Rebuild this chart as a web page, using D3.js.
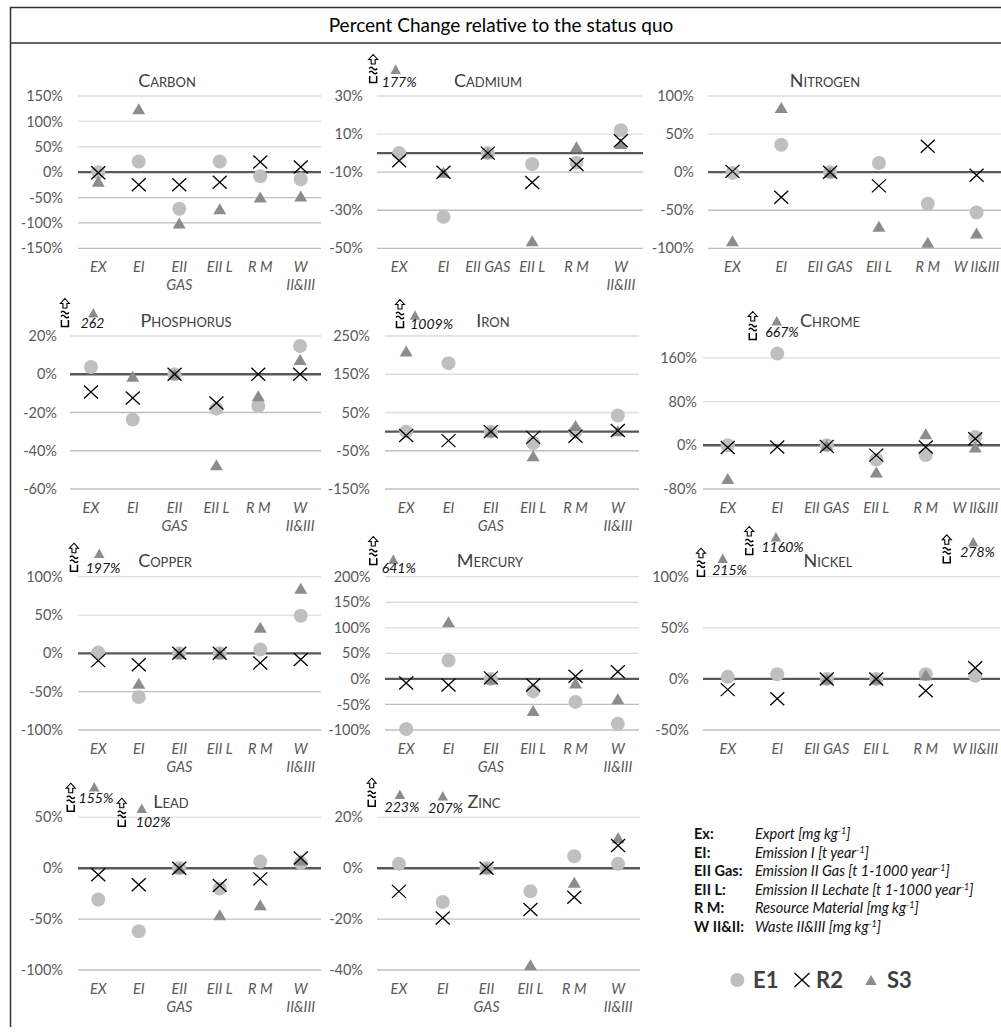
<!DOCTYPE html>
<html>
<head>
<meta charset="utf-8">
<script src="https://cdn.jsdelivr.net/npm/d3@7"></script>
<style>
  body { margin: 0; background: #fff; }
  svg { display: block; }
</style>
</head>
<body>
<svg id="chart" width="1001" height="1036"></svg>
<script>
// ---- data (percent change relative to the status quo) ----
const categories = ["EX", "EI", "EII GAS", "EII L", "R M", "W II&III"];
const elements = ["Carbon", "Cadmium", "Nitrogen", "Phosphorus", "Iron", "Chrome",
                  "Copper", "Mercury", "Nickel", "Lead", "Zinc"];

// scenario E1 (circles)
const e1Values = [
  [0, 21, -72, 21, -8, -14],
  [0, -33.5, 0, -5.8, -5, 12],
  [-1, 36, 0, 12, -41.5, -53],
  [3.8, -23.7, 0, -18, -16.6, 14.8],
  [0, 179, 0, -30, 0, 42],
  [0, 168, 0, -26, -18, 15],
  [1, -57, 0, 0, 5, 49],
  [-98, 36, 0, -24, -45, -88],
  [2, 4.5, 0, 0, 4.5, 3],
  [-30.7, -62, 0, -20, 6.5, 5],
  [1.7, -13.3, 0, -9.1, 4.7, 1.7]
];
// scenario R2 (crosses)
const r2Values = [
  [-1, -25, -25, -20, 20, 10],
  [-4, -10, 0, -15.4, -6, 6.5],
  [1, -33, 0, -18, 34, -4],
  [-9.3, -12.4, 0, -15, 0, 0],
  [-10, -23.5, 0, -15, -12, 3],
  [-4, -3, -2, -18, -3, 12],
  [-9.5, -15, 0, 0, -12.5, -8],
  [-8, -12, 2, -12, 5, 14],
  [-10.5, -19.5, 0, 0, -11.5, 11],
  [-6.5, -16.3, 0, -17, -10.5, 10],
  [-9.1, -19.6, 0, -16.2, -11.4, 8.9]
];
// scenario S3 (triangles); values above the axis maximum get a callout
const s3Values = [
  [-18, 125, -100, -72, -49, -47],
  [177, -10, 0, -46, 3.3, 5],
  [-90, 85, 0, -71, -92, -80],
  [262, -1, 0, -47.3, -11.3, 7.7],
  [211, 1009, 0, -63, 16, 2],
  [-61, 667, 0, -49, 21, -3],
  [197, -39, 0, 0, 34, 85],
  [641, 112, 0, -62, -8, -39],
  [215, 1160, 0, 0, 4, 278],
  [155, 102, 0, -45.7, -36, 8],
  [223, 207, 0, -37.9, -5.5, 12]
];

// value axes
const yDomains = [[-150, 150], [-50, 30], [-100, 100], [-60, 20], [-150, 250], [-80, 200],
                  [-100, 100], [-100, 200], [-50, 100], [-100, 50], [-40, 20]];
const yTickSteps = [50, 20, 50, 20, 100, 80, 50, 50, 50, 50, 20];
const unitlessCallouts = ["Phosphorus"];

// abbreviations
const abbrevKeys = ["Ex:", "EI:", "EII Gas:", "EII L:", "R M:", "W II&II:"];
const abbrevTexts = [
  ["Export [mg kg", "]"],
  ["Emission I [t year", "]"],
  ["Emission II Gas [t 1-1000 year", "]"],
  ["Emission II Lechate [t 1-1000 year", "]"],
  ["Resource Material [mg kg", "]"],
  ["Waste II&III [mg kg", "]"]
];
const seriesNames = ["E1", "R2", "S3"];

// ---- layout ----
const rowBands = [[96, 248.3], [336, 489], [576.7, 730], [817.3, 970]];
const cells = [
  { x0: 78,  x1: 321,  row: 0, tickRight: 63,  wrap: "both", titleX: 167 },
  { x0: 377, x1: 643,  row: 0, tickRight: 363, wrap: "w",    titleX: 488 },
  { x0: 708, x1: 1001, row: 0, tickRight: 694, wrap: "none", titleX: 825 },
  { x0: 70,  x1: 321,  row: 1, tickRight: 57,  wrap: "both", titleX: 186 },
  { x0: 385, x1: 639,  row: 1, tickRight: 370, wrap: "both", titleX: 493 },
  { x0: 703, x1: 1000, row: 1, tickRight: 697, wrap: "none", titleX: 830 },
  { x0: 78,  x1: 321,  row: 2, tickRight: 63,  wrap: "both", titleX: 165 },
  { x0: 385, x1: 639,  row: 2, tickRight: 370.5, wrap: "both", titleX: 490 },
  { x0: 703, x1: 1000, row: 2, tickRight: 689, wrap: "none", titleX: 828 },
  { x0: 78,  x1: 321,  row: 3, tickRight: 63,  wrap: "both", titleX: 171 },
  { x0: 377, x1: 640,  row: 3, tickRight: 363, wrap: "both", titleX: 484 }
];
// callout placement relative to band centre / plot top: triangle, label, break mark
const calloutPlacement = {
  "Cadmium|EX":    { t: [-3.5, -26.7], l: [0, -9.3],    a: [-26, -13] },
  "Phosphorus|EX": { t: [2.4, -23.3],  l: [1.6, -8],    a: [-26, -9] },
  "Iron|EI":       { t: [-33.5, -21],  l: [-16.8, -6.7], a: [-48.5, -8] },
  "Chrome|EI":     { t: [-0.5, -15.3], l: [4.8, 0.7],   a: [-24.5, 4] },
  "Copper|EX":     { t: [1, -23.4],    l: [4.8, -4],    a: [-24.3, -5] },
  "Mercury|EX":    { t: [-12.9, -17.4], l: [-7.4, -3.4], a: [-32.9, -11.7] },
  "Nickel|EX":     { t: [-5, -18.4],   l: [1.8, -1.7],  a: [-26.8, 0] },
  "Nickel|EI":     { t: [-1.3, -40],   l: [5.3, -25],   a: [-28, -21.7] },
  "Nickel|W II&III": { t: [-2, -35],   l: [2.3, -20],   a: [-28.5, -13.4] },
  "Lead|EX":       { t: [-4, -30.6],   l: [-2.3, -14],  a: [-27.5, -5.6] },
  "Lead|EI":       { t: [3, -9],       l: [14.5, 9.4],  a: [-17, 9.4] },
  "Zinc|EX":       { t: [1, -23],      l: [3, -5.6],    a: [-27.2, -10.6] },
  "Zinc|EI":       { t: [0, -21.6],    l: [2.8, -4],    a: null }
};

const FONT = "Lato, Carlito, 'Open Sans', sans-serif";
const TEXT_GREY = "#595959";
const C_E1 = "#BFBFBF", C_S3 = "#8C8C8C", C_R2 = "#000";

const svg = d3.select("#chart");

// frame (top and left edges) and heading bar
svg.append("path").attr("d", "M10.5,1027V7.5H1001M10.5,43H1001")
  .attr("fill", "none").attr("stroke", "#333").attr("stroke-width", 1.5);
svg.append("text").attr("x", 501).attr("y", 32).attr("text-anchor", "middle")
  .attr("font-family", FONT).attr("font-size", 19).attr("fill", "#000")
  .text("Percent Change relative to the status quo");

const triPath = (w, h) => `M0,${-h / 2}L${w / 2},${h / 2}L${-w / 2},${h / 2}Z`;
const crossPath = (w, h) => `M${-w / 2},${-h / 2}L${w / 2},${h / 2}M${w / 2},${-h / 2}L${-w / 2},${h / 2}`;

// axis-break mark: hollow up arrow, double wave, open bracket
function breakMark(g, ax, ab) {
  const m = g.append("g").attr("transform", `translate(${ax},${ab})`)
    .attr("fill", "none").attr("stroke", "#000");
  m.append("path").attr("d", "M0,-28.5L4.5,-23.5H2V-19H-2V-23.5H-4.5Z")
    .attr("fill", "#fff").attr("stroke-width", 1.1);
  m.append("path").attr("d", "M-4,-14.5q2,-2.5 4,0t4,0M-4,-10.5q2,-2.5 4,0t4,0")
    .attr("stroke-width", 1.4);
  m.append("path").attr("d", "M-3.5,-7V-0.5H3.5V-7").attr("stroke-width", 1.5);
}

elements.forEach((name, i) => {
  const c = cells[i];
  const [top, bottom] = rowBands[c.row];
  const [lo, hi] = yDomains[i];
  const g = svg.append("g").attr("class", "panel");

  const x = d3.scaleBand().domain(categories).range([c.x0, c.x1]);
  const y = d3.scaleLinear().domain([lo, hi]).range([bottom, top]);
  const ticks = d3.range(lo, hi + 1e-9, yTickSteps[i]);
  const cx = d => x(d) + x.bandwidth() / 2;

  // gridlines
  g.selectAll("line.grid").data(ticks.filter(t => t !== 0)).join("line")
    .attr("class", "grid")
    .attr("x1", c.x0).attr("x2", c.x1)
    .attr("y1", d => y(d)).attr("y2", d => y(d))
    .attr("stroke", d => d > 0 ? "#DDDDDD" : "#BFBFBF").attr("stroke-width", 1.3);

  // value axis labels
  const ya = g.append("g").attr("transform", `translate(${c.x0},0)`)
    .call(d3.axisLeft(y).tickValues(ticks).tickSize(0)
      .tickPadding(c.x0 - c.tickRight).tickFormat(d => d + "%"));
  ya.select(".domain").remove();
  ya.attr("font-family", FONT).attr("font-size", 14.5);
  ya.selectAll("text").attr("fill", TEXT_GREY);

  // category labels
  const xa = g.append("g").attr("transform", `translate(0,${bottom})`)
    .call(d3.axisBottom(x).tickSize(0).tickPadding(0));
  xa.select(".domain").remove();
  xa.attr("font-family", FONT).attr("font-size", 14.5);
  xa.selectAll("text").each(function (d) {
    const t = d3.select(this).attr("y", null).attr("dy", null)
      .attr("fill", TEXT_GREY).attr("font-style", "italic").text(null);
    let lines = [d];
    if (c.wrap === "both" && (d === "EII GAS" || d === "W II&III")) lines = d.split(" ");
    if (c.wrap === "w" && d === "W II&III") lines = d.split(" ");
    lines.forEach((ln, k) => t.append("tspan").attr("x", 0).attr("y", 23.5 + k * 18.5).text(ln));
  });

  // zero line
  g.append("line").attr("x1", c.x0).attr("x2", c.x1).attr("y1", y(0)).attr("y2", y(0))
    .attr("stroke", "#595959").attr("stroke-width", 2.4);

  // E1 circles
  g.selectAll("circle.e1").data(categories.map((k, j) => ({ k, v: e1Values[i][j] })))
    .join("circle").attr("class", "e1")
    .attr("cx", d => cx(d.k)).attr("cy", d => y(d.v)).attr("r", 7).attr("fill", C_E1);

  // S3 triangles (in range)
  const s3 = categories.map((k, j) => ({ k, v: s3Values[i][j] }));
  g.selectAll("path.s3").data(s3.filter(d => d.v <= hi))
    .join("path").attr("class", "s3")
    .attr("d", triPath(13, 11))
    .attr("transform", d => `translate(${cx(d.k)},${y(d.v)})`)
    .attr("fill", C_S3);

  // R2 crosses
  g.selectAll("path.r2").data(categories.map((k, j) => ({ k, v: r2Values[i][j] })))
    .join("path").attr("class", "r2")
    .attr("d", crossPath(14, 13))
    .attr("transform", d => `translate(${cx(d.k)},${y(d.v)})`)
    .attr("fill", "none").attr("stroke", C_R2).attr("stroke-width", 1.3);

  // off-scale S3 callouts
  s3.filter(d => d.v > hi).forEach(d => {
    const p = calloutPlacement[name + "|" + d.k];
    const bx = cx(d.k);
    g.append("path").attr("d", triPath(10.5, 9.5))
      .attr("transform", `translate(${bx + p.t[0]},${top + p.t[1]})`).attr("fill", C_S3);
    g.append("text").attr("x", bx + p.l[0]).attr("y", top + p.l[1])
      .attr("text-anchor", "middle").attr("font-family", FONT).attr("font-size", 14)
      .attr("font-style", "italic").attr("fill", "#111")
      .text(unitlessCallouts.includes(name) ? String(d.v) : d.v + "%");
    if (p.a) breakMark(g, bx + p.a[0], top + p.a[1]);
  });

  // panel title
  g.append("text").attr("x", c.titleX).attr("y", top - 9.5).attr("text-anchor", "middle")
    .attr("font-family", FONT).attr("font-size", 18)
    .style("font-variant", "small-caps").attr("fill", "#404040").text(name);
});

// ---- abbreviation list ----
const ab = svg.append("g").attr("font-family", FONT).attr("font-size", 14.5).attr("fill", "#111");
abbrevKeys.forEach((k, j) => {
  const yy = 839 + j * 18.5;
  ab.append("text").attr("x", 694).attr("y", yy).attr("font-weight", "bold").text(k);
  const t = ab.append("text").attr("x", 755).attr("y", yy).attr("font-style", "italic");
  t.append("tspan").text(abbrevTexts[j][0]);
  t.append("tspan").attr("font-size", 9).attr("dy", -5).text("-1");
  t.append("tspan").attr("dy", 5).text(abbrevTexts[j][1]);
});

// ---- series legend ----
const lg = svg.append("g").attr("font-family", FONT).attr("font-weight", "bold")
  .attr("font-size", 22).attr("fill", "#404040");
lg.append("circle").attr("cx", 737.3).attr("cy", 980).attr("r", 7).attr("fill", C_E1);
lg.append("text").attr("x", 753).attr("y", 988).text(seriesNames[0]);
lg.append("path").attr("d", crossPath(15, 14)).attr("transform", "translate(802,980)")
  .attr("fill", "none").attr("stroke", C_R2).attr("stroke-width", 1.3);
lg.append("text").attr("x", 816).attr("y", 988).text(seriesNames[1]);
lg.append("path").attr("d", triPath(11.5, 10)).attr("transform", "translate(871,980)").attr("fill", C_S3);
lg.append("text").attr("x", 887).attr("y", 988).text(seriesNames[2]);
</script>
</body>
</html>
